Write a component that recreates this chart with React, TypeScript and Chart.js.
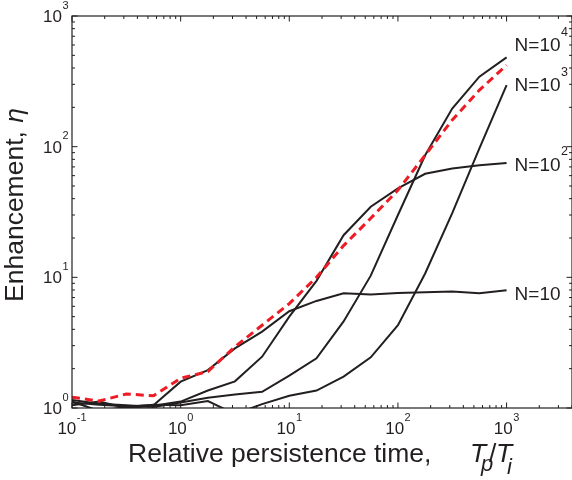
import React, { useEffect, useRef } from "react";
import { Chart, registerables } from "chart.js";

Chart.register(...registerables);

// ---------- data ----------
const persistence = [0.1, 0.178, 0.316, 0.562, 1, 1.78, 3.16, 5.62, 10, 17.8, 31.6, 56.2, 100, 178, 316, 562, 1000];
const theory = [1.21, 1.13, 1.28, 1.24, 1.69, 1.9, 2.94, 4.3, 6.3, 10.0, 17.5, 28.3, 46.5, 86, 160, 271, 421];
const curveN10 = [1.1, 1.06, 1.03, 1.05, 1.59, 1.95, 2.86, 3.84, 5.5, 6.6, 7.55, 7.4, 7.6, 7.7, 7.8, 7.55, 7.95];
const curveN100 = [1.05, 1.12, 1.0, 1.04, 1.12, 1.36, 1.6, 2.47, 5.0, 9.4, 21, 34.7, 48, 62, 68, 72, 75];
const curveN10k = [1.15, 1.08, 1.05, 1.02, 1.1, 1.2, 1.27, 1.33, 1.77, 2.4, 4.6, 10.3, 30, 86, 196, 343, 482];
const curveN1k = [1.12, 0.95, 1.02, 1.06, 1.05, 1.13, 0.9, 1.07, 1.24, 1.36, 1.74, 2.44, 4.31, 10.7, 31, 97, 296];

const xTickExponents = [-1, 0, 1, 2, 3];
const yTickExponents = [0, 1, 2, 3];

const labelBases = ["N=10", "N=10", "N=10", "N=10"];
const labelSups = ["", "2", "3", "4"];
const labelValues = [7.6, 74, 300, 610];
const labelAnchorX = 1000;

const xTitle = "Relative persistence time,";
const yTitle = "Enhancement, ";
const yTitleSymbol = "η";

// ---------- styles ----------
const INK = "#231f20";
const RED = "#ed1c24";
const FONT = '"Liberation Sans", Arial, Helvetica, sans-serif';

function font(size: number, italic = false) {
  return `${italic ? "italic " : ""}${size}px ${FONT}`;
}

const decorPlugin = {
  id: "decor",
  afterDraw(chart: any) {
    const { ctx, chartArea: a, scales } = chart;
    const xs = scales.x;
    const ys = scales.y;
    ctx.save();
    ctx.strokeStyle = INK;
    ctx.fillStyle = INK;
    ctx.lineWidth = 1.2;
    // frame
    ctx.strokeRect(a.left, a.top, a.right - a.left, a.bottom - a.top);

    const MAJ = 5.5;
    const MIN = 3;
    ctx.lineWidth = 1;
    ctx.beginPath();
    // x ticks
    for (let d = -1; d <= 3; d++) {
      for (let m = 1; m <= 9; m++) {
        const v = m * Math.pow(10, d);
        if (v < xs.min - 1e-9 || v > xs.max + 1e-9) continue;
        const px = xs.getPixelForValue(v);
        const len = m === 1 ? MAJ : MIN;
        ctx.moveTo(px, a.bottom);
        ctx.lineTo(px, a.bottom - len);
        ctx.moveTo(px, a.top);
        ctx.lineTo(px, a.top + len);
      }
    }
    // y ticks
    for (let d = 0; d <= 3; d++) {
      for (let m = 1; m <= 9; m++) {
        const v = m * Math.pow(10, d);
        if (v < ys.min - 1e-9 || v > ys.max + 1e-9) continue;
        const py = ys.getPixelForValue(v);
        const len = m === 1 ? MAJ : MIN;
        ctx.moveTo(a.left, py);
        ctx.lineTo(a.left + len, py);
        ctx.moveTo(a.right, py);
        ctx.lineTo(a.right - len, py);
      }
    }
    ctx.stroke();

    // x tick labels
    ctx.textBaseline = "alphabetic";
    for (const e of xTickExponents) {
      const px = xs.getPixelForValue(Math.pow(10, e));
      ctx.font = font(17);
      const wb = ctx.measureText("10").width;
      ctx.font = font(11);
      const sup = String(e).replace("-", "-");
      const ws = ctx.measureText(sup).width;
      const total = wb + ws + 0.5;
      const x0 = px - total / 2;
      const base = a.bottom + 26;
      ctx.textAlign = "left";
      ctx.font = font(17);
      ctx.fillText("10", x0, base);
      ctx.font = font(11);
      ctx.fillText(sup, x0 + wb + 0.5, base - 13.5);
    }
    // y tick labels
    for (const e of yTickExponents) {
      const py = ys.getPixelForValue(Math.pow(10, e));
      ctx.font = font(11);
      const sup = String(e);
      const ws = ctx.measureText(sup).width;
      const right = a.left - 3.5;
      const base = py + 6;
      ctx.textAlign = "right";
      ctx.fillText(sup, right, base - 13.5);
      ctx.font = font(17);
      ctx.fillText("10", right - ws - 0.5, base);
    }

    // curve labels
    for (let i = 0; i < labelBases.length; i++) {
      const px = xs.getPixelForValue(labelAnchorX) + 8;
      const py = ys.getPixelForValue(labelValues[i]);
      const base = py + 7;
      ctx.textAlign = "left";
      ctx.font = font(19);
      ctx.fillText(labelBases[i], px, base);
      const w = ctx.measureText(labelBases[i]).width;
      if (labelSups[i]) {
        ctx.font = font(12.5);
        ctx.fillText(labelSups[i], px + w + 0.5, base - 15.5);
      }
    }

    // x title
    ctx.textAlign = "left";
    ctx.font = font(26.5);
    ctx.fillText(xTitle, 128, 462);
    ctx.font = font(26.5, true);
    ctx.fillText("T", 470, 462);
    ctx.font = font(22, true);
    ctx.fillText("p", 481, 471);
    ctx.font = font(26.5);
    ctx.fillText("/", 489, 462);
    ctx.font = font(26.5, true);
    ctx.fillText("T", 496, 462);
    ctx.font = font(22, true);
    ctx.fillText("i", 507, 474);

    // y title
    ctx.save();
    ctx.translate(23, 302);
    ctx.rotate(-Math.PI / 2);
    ctx.textAlign = "left";
    ctx.font = font(26.5);
    ctx.fillText(yTitle, 0, 0);
    const wy = ctx.measureText(yTitle).width;
    ctx.font = font(26.5, true);
    ctx.fillText(yTitleSymbol, wy + 1, 0);
    ctx.restore();

    ctx.restore();
  },
};

function pts(values: number[]) {
  return persistence.map((x, i) => ({ x, y: values[i] }));
}

export default function App() {
  const ref = useRef<HTMLCanvasElement | null>(null);
  useEffect(() => {
    if (!ref.current) return;
    const blackLine = (values: number[]) => ({
      data: pts(values),
      borderColor: INK,
      borderWidth: 2,
      pointRadius: 0,
      tension: 0,
      fill: false,
    });
    const chart = new Chart(ref.current, {
      type: "line",
      data: {
        datasets: [
          {
            data: pts(theory),
            borderColor: RED,
            borderWidth: 3,
            borderDash: [8, 5],
            pointRadius: 0,
            tension: 0,
            fill: false,
          },
          blackLine(curveN10),
          blackLine(curveN100),
          blackLine(curveN1k),
          blackLine(curveN10k),
        ],
      },
      options: {
        responsive: false,
        animation: false,
        events: [],
        layout: { padding: { left: 72, top: 16, right: 0, bottom: 72 } },
        plugins: { legend: { display: false }, tooltip: { enabled: false } },
        scales: {
          x: { type: "logarithmic", min: 0.1, max: 4000, display: false },
          y: { type: "logarithmic", min: 1, max: 1000, display: false },
        },
      },
      plugins: [decorPlugin],
    } as any);
    return () => chart.destroy();
  }, []);
  return (
    <div style={{ position: "absolute", left: 0, top: 0, width: 572, height: 480, overflow: "hidden", background: "#fff" }}>
      <canvas ref={ref} width={572} height={480} style={{ display: "block" }} />
    </div>
  );
}
